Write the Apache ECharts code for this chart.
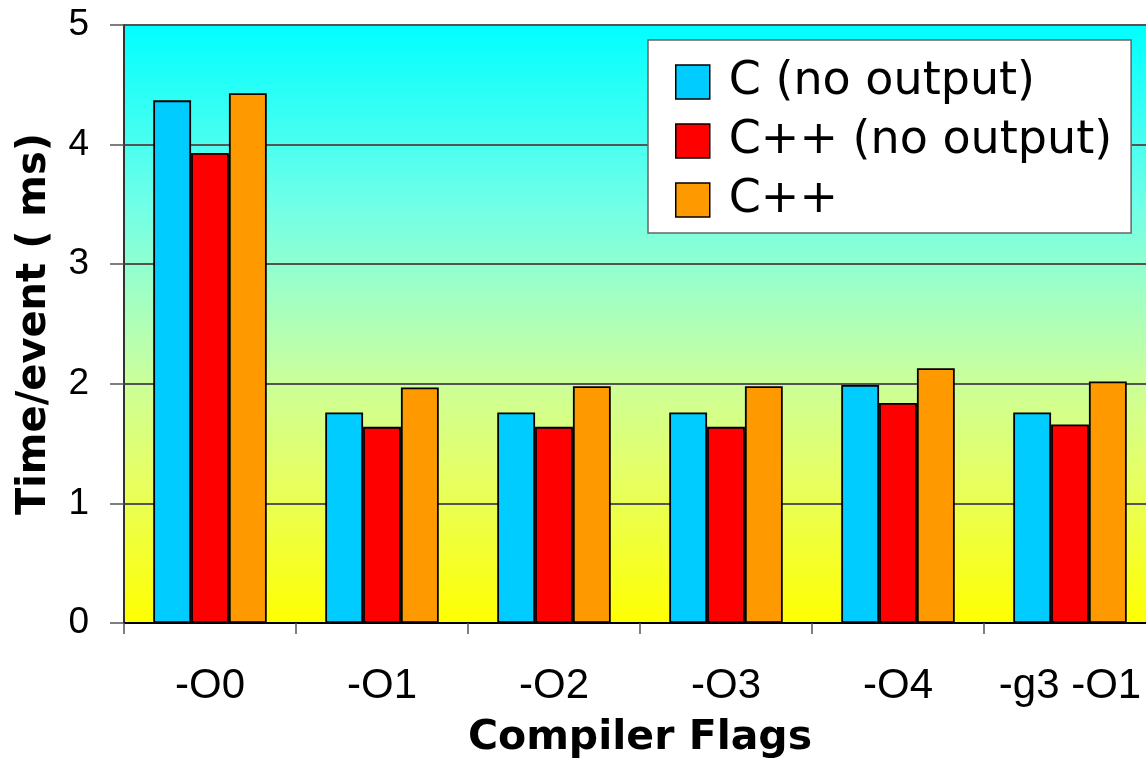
<!DOCTYPE html>
<html>
<head>
<meta charset="utf-8">
<script src="https://cdn.jsdelivr.net/npm/echarts@6/dist/echarts.min.js"></script>
<style>
  html, body { margin: 0; padding: 0; background: #fff; }
  #chart { width: 1146px; height: 763px; }
</style>
</head>
<body>
<div id="chart"></div>
<script>
var flags = ['-O0', '-O1', '-O2', '-O3', '-O4', '-g3 -O1'];
var cNoOutput = [4.37, 1.76, 1.76, 1.76, 1.99, 1.76];
var cppNoOutput = [3.93, 1.64, 1.64, 1.64, 1.84, 1.66];
var cpp = [4.43, 1.97, 1.98, 1.98, 2.13, 2.02];
var seriesNames = ['C (no output)', 'C++ (no output)', 'C++'];

var myChart = echarts.init(document.getElementById('chart'));
var sans = 'Liberation Sans, Arial, sans-serif';
var wide = 'DejaVu Sans, sans-serif';

function barSeries(name, data, color) {
    return {
        name: name,
        type: 'bar',
        data: data,
        barGap: '0%',
        barCategoryGap: '34%',
        itemStyle: { color: color, borderColor: '#000', borderWidth: 1.8 }
    };
}

var option = {
    animation: false,
    backgroundColor: '#fff',
    textStyle: { fontFamily: sans },
    grid: {
        left: 124,
        right: -10,
        top: 25,
        bottom: 140,
        outerBoundsMode: 'none',
        containLabel: false,
        show: true,
        borderWidth: 0,
        backgroundColor: new echarts.graphic.LinearGradient(0, 0, 0, 1, [
            { offset: 0, color: '#00ffff' },
            { offset: 0.3, color: '#70ffe8' },
            { offset: 0.5, color: '#b0ffb8' },
            { offset: 0.6, color: '#ccff99' },
            { offset: 0.75, color: '#e6ff66' },
            { offset: 1, color: '#ffff00' }
        ])
    },
    legend: {
        orient: 'vertical',
        left: 648,
        top: 40,
        backgroundColor: '#fff',
        borderColor: '#666',
        borderWidth: 1.5,
        borderRadius: 0,
        padding: [18, 19, 9, 27],
        itemWidth: 34,
        itemHeight: 34,
        itemGap: 11,
        icon: 'rect',
        itemStyle: { borderColor: '#000', borderWidth: 1.5 },
        textStyle: { fontSize: 46, color: '#000', fontFamily: wide, lineHeight: 48, padding: [0, 0, 0, 14] },
        data: seriesNames
    },
    xAxis: {
        type: 'category',
        data: flags,
        name: 'Compiler Flags',
        nameLocation: 'middle',
        nameGap: 95,
        nameTextStyle: { fontSize: 41, fontWeight: 'bold', color: '#000', fontFamily: wide },
        axisLine: { lineStyle: { color: '#000', width: 2 } },
        axisTick: { show: true, interval: 0, length: 11, lineStyle: { color: '#555', width: 1.5 } },
        axisLabel: { interval: 0, fontSize: 42, color: '#000', margin: 42, fontFamily: sans, hideOverlap: false }
    },
    yAxis: {
        type: 'value',
        min: 0,
        max: 5,
        interval: 1,
        name: 'Time/event ( ms)',
        nameLocation: 'middle',
        nameGap: 69,
        nameTextStyle: { fontSize: 40, fontWeight: 'bold', color: '#000', fontFamily: wide },
        axisLine: { show: true, lineStyle: { color: '#333', width: 2 } },
        axisTick: { show: true, length: 14, lineStyle: { color: '#555', width: 1.5 } },
        axisLabel: { fontSize: 37, color: '#000', margin: 35, fontFamily: sans },
        splitLine: { lineStyle: { color: '#555', width: 2 } }
    },
    series: [
        barSeries(seriesNames[0], cNoOutput, '#00ccff'),
        barSeries(seriesNames[1], cppNoOutput, '#ff0000'),
        barSeries(seriesNames[2], cpp, '#ff9900')
    ]
};
myChart.setOption(option);
</script>
</body>
</html>
